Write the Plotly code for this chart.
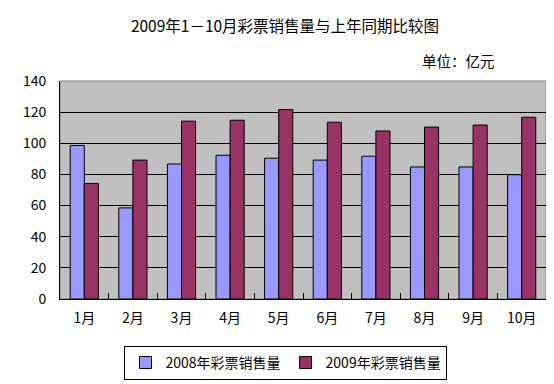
import plotly.graph_objects as go

months = ["1月", "2月", "3月", "4月", "5月", "6月", "7月", "8月", "9月", "10月"]
sales_2008 = [98.6, 58.5, 86.7, 92.3, 90.4, 89.2, 91.7, 84.8, 84.8, 79.8]
sales_2009 = [74.2, 89.2, 114.2, 114.8, 121.7, 113.5, 107.9, 110.4, 111.7, 116.7]
series_names = ["2008年彩票销售量", "2009年彩票销售量"]
y_ticks = [0, 20, 40, 60, 80, 100, 120, 140]

font_family = "Noto Sans CJK SC, DejaVu Sans, sans-serif"

fig = go.Figure()
fig.add_trace(go.Bar(x=months, y=sales_2008, name=series_names[0],
                     marker=dict(color="#9999FF", line=dict(color="black", width=1))))
fig.add_trace(go.Bar(x=months, y=sales_2009, name=series_names[1],
                     marker=dict(color="#993366", line=dict(color="black", width=1))))

fig.update_layout(
    width=554, height=384,
    margin=dict(l=52, r=16, t=73, b=87),
    paper_bgcolor="white",
    plot_bgcolor="#C0C0C0",
    font=dict(family=font_family, size=14, color="black"),
    barmode="group",
    bargap=0.42,
    bargroupgap=0,
    title=dict(text="2009年1－10月彩票销售量与上年同期比较图", x=0.5, xanchor="center",
               y=1 - 19 / 384, yanchor="middle", font=dict(size=15.5, family=font_family)),
    showlegend=True,
    legend=dict(orientation="h", x=0.465, xanchor="center", y=-0.215, yanchor="top",
                bordercolor="black", borderwidth=1, bgcolor="white",
                font=dict(size=14, family=font_family), itemwidth=30,
                traceorder="normal", tracegroupgap=0),
    annotations=[dict(text="单位：亿元", xref="paper", yref="paper", x=(489 - 52) / 486,
                      y=(297 - 52) / 224, xanchor="right", yanchor="middle", showarrow=False,
                      font=dict(size=14.5, family=font_family))],
)

fig.update_xaxes(
    showline=True, linecolor="black", linewidth=1,
    ticks="inside", tickson="boundaries", ticklen=6, tickcolor="black", tickwidth=1,
    showgrid=False, mirror=False, ticklabelstandoff=6, automargin=False,
)
fig.update_yaxes(
    range=[0, 140], tickvals=y_ticks,
    showline=True, linecolor="black", linewidth=1,
    ticks="", ticklabelstandoff=10,
    showgrid=True, gridcolor="black", gridwidth=1,
    zeroline=False, automargin=False,
)
# gray border on top and right of plot area
fig.add_shape(type="rect", xref="paper", yref="paper", x0=0, y0=0, x1=1, y1=1,
              line=dict(color="#808080", width=1), layer="below")

fig.write_html("out.html")
